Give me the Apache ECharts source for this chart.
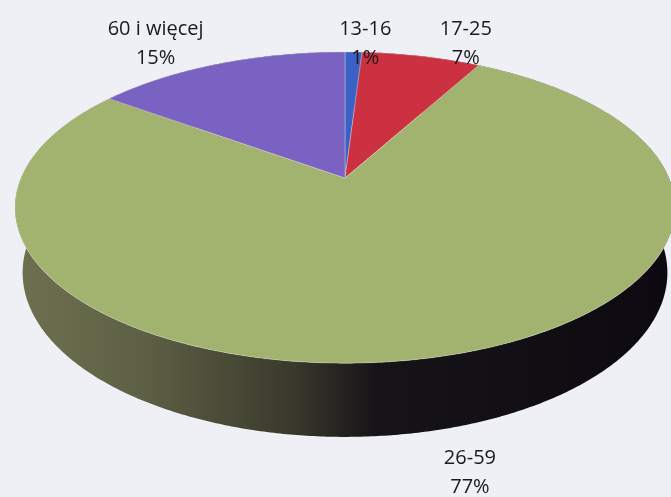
<!DOCTYPE html>
<html>
<head>
<meta charset="utf-8">
<script src="https://cdn.jsdelivr.net/npm/echarts@6/dist/echarts.min.js"></script>
<style>
html,body{margin:0;padding:0;background:#eef0f5;}
#chart{width:671px;height:497px;}
</style>
</head>
<body>
<div id="chart"></div>
<script>
// ---- data ----
const categories = ['13-16', '17-25', '26-59', '60 i więcej'];
const values = [1, 7, 77, 15];
const percentLabels = ['1%', '7%', '77%', '15%'];

// ---- styling / layout ----
const topColors = ['#3b60c6', '#cb3140', '#a1b36e', '#7962c1'];
const wallColors = ['#1f3370', '#701a22', null, '#3f3270'];
const labelNudge = [[11, 2], [38, -2], [30, 18], [-53, -10]];

// perspective camera parameters
const CX = 345, CY = 178;
const R = 0.2144, SIN_A = 0.463, COS_A = 0.886, F = 1511, H = 0.049;

function proj(phiDeg, s, h) {
  const p = phiDeg * Math.PI / 180;
  const x = s * R * Math.sin(p);
  const z = s * R * Math.cos(p);
  const yc = z * SIN_A - h * COS_A;
  const depth = 1 + z * COS_A + h * SIN_A;
  return [CX + F * x / depth, CY - F * yc / depth];
}

const total = values.reduce((a, b) => a + b, 0);
const starts = [];
let acc = 0;
values.forEach(v => { starts.push(acc / total * 360); acc += v; });

function arcPoints(a0, a1, h) {
  const pts = [];
  const n = Math.max(2, Math.ceil((a1 - a0) / 0.5));
  for (let i = 0; i <= n; i++) pts.push(proj(a0 + (a1 - a0) * i / n, 1, h));
  return pts;
}

const wallGradient = {
  type: 'linear', x: 15, y: 0, x2: 671, y2: 0, global: true,
  colorStops: [
    { offset: 0, color: '#6e7150' },
    { offset: 0.2, color: '#5d5f44' },
    { offset: 0.42, color: '#3a3a2c' },
    { offset: 0.55, color: '#161418' },
    { offset: 1, color: '#0c0a10' }
  ]
};

const seriesData = values.map((v, i) => ({ name: categories[i], value: v }));

const option = {
  backgroundColor: '#eef0f5',
  animation: false,
  series: [
    {
      type: 'custom',
      coordinateSystem: 'none',
      data: seriesData,
      renderItem: function (params, api) {
        const i = params.dataIndex;
        const a0 = starts[i];
        const a1 = a0 + api.value(0) / total * 360;
        const top = arcPoints(a0, a1, 0);
        const bot = arcPoints(a0, a1, H).reverse();
        const fill = wallColors[i] ? wallColors[i] : wallGradient;
        return {
          type: 'polygon',
          shape: { points: top.concat(bot) },
          style: { fill: fill, stroke: fill === wallGradient ? null : fill, lineWidth: 0 }
        };
      }
    },
    {
      type: 'custom',
      coordinateSystem: 'none',
      data: seriesData,
      renderItem: function (params, api) {
        const i = params.dataIndex;
        const a0 = starts[i];
        const a1 = a0 + api.value(0) / total * 360;
        const pts = [[CX, CY]].concat(arcPoints(a0, a1, 0));
        const mid = (a0 + a1) / 2;
        const front = Math.cos(mid * Math.PI / 180) < 0;
        const base = proj(mid, 1.1, front ? H : 0);
        return {
          type: 'group',
          children: [
            {
              type: 'polygon',
              shape: { points: pts },
              style: { fill: topColors[i], stroke: 'rgba(235,235,225,0.35)', lineWidth: 1 }
            },
            {
              type: 'text',
              x: base[0] + labelNudge[i][0],
              y: base[1] + labelNudge[i][1],
              z2: 10,
              style: {
                text: categories[i] + '\n' + percentLabels[i],
                fill: '#1a1a1e',
                fontFamily: 'Open Sans',
                fontSize: 20,
                lineHeight: 29,
                align: 'center',
                verticalAlign: 'middle'
              }
            }
          ]
        };
      }
    }
  ]
};

const chart = echarts.init(document.getElementById('chart'), null, { renderer: 'canvas' });
chart.setOption(option);
</script>
</body>
</html>
